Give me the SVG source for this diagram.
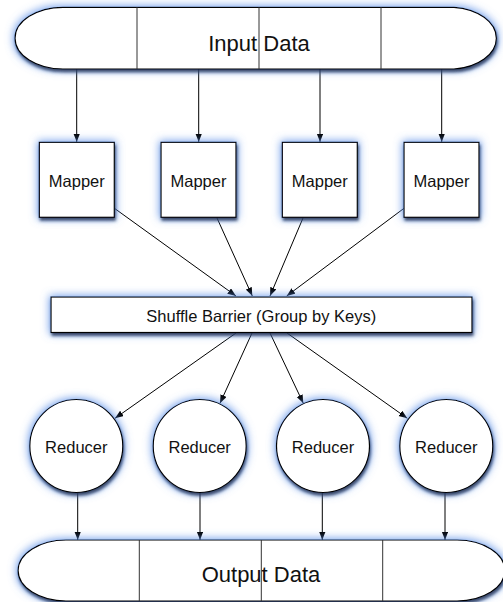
<svg xmlns="http://www.w3.org/2000/svg" width="503" height="602" viewBox="0 0 503 602">
<defs>
  <filter id="sh" x="-20%" y="-30%" width="140%" height="170%">
    <feMorphology in="SourceAlpha" operator="dilate" radius="1" result="d"/>
    <feGaussianBlur in="d" stdDeviation="4" result="b"/>
    <feFlood flood-color="#5b8fe8" flood-opacity="0.85"/>
    <feComposite in2="b" operator="in" result="glow"/>
    <feOffset in="SourceAlpha" dx="1" dy="3" result="o"/>
    <feGaussianBlur in="o" stdDeviation="1.6" result="ob"/>
    <feFlood flood-color="#1a1a2a" flood-opacity="0.8"/>
    <feComposite in2="ob" operator="in" result="dark"/>
    <feMerge><feMergeNode in="glow"/><feMergeNode in="dark"/><feMergeNode in="SourceGraphic"/></feMerge>
  </filter>
  <marker id="ah" markerWidth="9" markerHeight="7" refX="8.5" refY="3.25" orient="auto" markerUnits="userSpaceOnUse">
    <path d="M0,0 L8.5,3.25 L0,6.5 z" fill="#000"/>
  </marker>
  <style>
    .shape{fill:#fff;stroke:#000;stroke-width:1.2;filter:url(#sh)}
    .div{stroke:#333;stroke-width:1;fill:none}
    .conn{stroke:#000;stroke-width:1;fill:none;marker-end:url(#ah)}
    .big{font-family:"Liberation Sans",Arial,sans-serif;font-size:22px;fill:#111;text-anchor:middle}
    .lbl{font-family:"Liberation Sans",Arial,sans-serif;font-size:16.5px;fill:#111;text-anchor:middle}
  </style>
</defs>

<g id="connectors">
  <line class="conn" x1="76.7" y1="69" x2="76.7" y2="142"/>
  <line class="conn" x1="198.7" y1="69" x2="198.7" y2="142"/>
  <line class="conn" x1="320" y1="69" x2="320" y2="142"/>
  <line class="conn" x1="441.7" y1="69" x2="441.7" y2="142"/>

  <line class="conn" x1="114" y1="208" x2="236" y2="296"/>
  <line class="conn" x1="216.7" y1="217.3" x2="252.3" y2="296"/>
  <line class="conn" x1="303.3" y1="217.3" x2="270" y2="296"/>
  <line class="conn" x1="404" y1="208.3" x2="286.7" y2="296"/>

  <line class="conn" x1="236" y1="333" x2="115" y2="418.3"/>
  <line class="conn" x1="252" y1="333" x2="220" y2="403.3"/>
  <line class="conn" x1="270" y1="333" x2="303.3" y2="403.3"/>
  <line class="conn" x1="287" y1="333" x2="407.3" y2="418.3"/>

  <line class="conn" x1="77.7" y1="493" x2="77.7" y2="540"/>
  <line class="conn" x1="200" y1="493" x2="200" y2="540"/>
  <line class="conn" x1="322.3" y1="493" x2="322.3" y2="540"/>
  <line class="conn" x1="445" y1="493" x2="445" y2="540"/>
</g>

<g id="input-data">
  <path class="shape" d="M63,7.3 H454 A47,31 0 0 1 454,69 H63 A48,30.85 0 0 1 63,7.3 Z"/>
  <line class="div" x1="137" y1="7.3" x2="137" y2="69"/>
  <line class="div" x1="259" y1="7.3" x2="259" y2="69"/>
  <line class="div" x1="381" y1="7.3" x2="381" y2="69"/>
  <text class="big" x="259" y="50.5">Input Data</text>
</g>

<g id="mapper1">
  <rect class="shape" x="39.3" y="142.3" width="75" height="75"/>
  <text class="lbl" x="76.8" y="186.7">Mapper</text>
</g>
<g id="mapper2">
  <rect class="shape" x="161" y="142.3" width="75" height="75"/>
  <text class="lbl" x="198.5" y="186.7">Mapper</text>
</g>
<g id="mapper3">
  <rect class="shape" x="282.3" y="142.3" width="75" height="75"/>
  <text class="lbl" x="319.8" y="186.7">Mapper</text>
</g>
<g id="mapper4">
  <rect class="shape" x="404" y="142.3" width="75" height="75"/>
  <text class="lbl" x="441.5" y="186.7">Mapper</text>
</g>

<g id="shuffle">
  <rect class="shape" x="51" y="297" width="421" height="35.5"/>
  <text class="lbl" x="261.3" y="321.7">Shuffle Barrier (Group by Keys)</text>
</g>

<g id="reducer1">
  <circle class="shape" cx="76.3" cy="446" r="46.5"/>
  <text class="lbl" x="76.3" y="452.7">Reducer</text>
</g>
<g id="reducer2">
  <circle class="shape" cx="199.7" cy="446" r="46.5"/>
  <text class="lbl" x="199.7" y="452.7">Reducer</text>
</g>
<g id="reducer3">
  <circle class="shape" cx="323" cy="446" r="46.5"/>
  <text class="lbl" x="323" y="452.7">Reducer</text>
</g>
<g id="reducer4">
  <circle class="shape" cx="446.3" cy="446" r="46.5"/>
  <text class="lbl" x="446.3" y="452.7">Reducer</text>
</g>

<g id="output-data">
  <path class="shape" d="M66,540 H457 A48,30.5 0 0 1 457,601 H66 A48,30.5 0 0 1 66,540 Z"/>
  <line class="div" x1="139.3" y1="540" x2="139.3" y2="601"/>
  <line class="div" x1="261.3" y1="540" x2="261.3" y2="601"/>
  <line class="div" x1="382.7" y1="540" x2="382.7" y2="601"/>
  <text class="big" x="261" y="581.7">Output Data</text>
</g>
</svg>
